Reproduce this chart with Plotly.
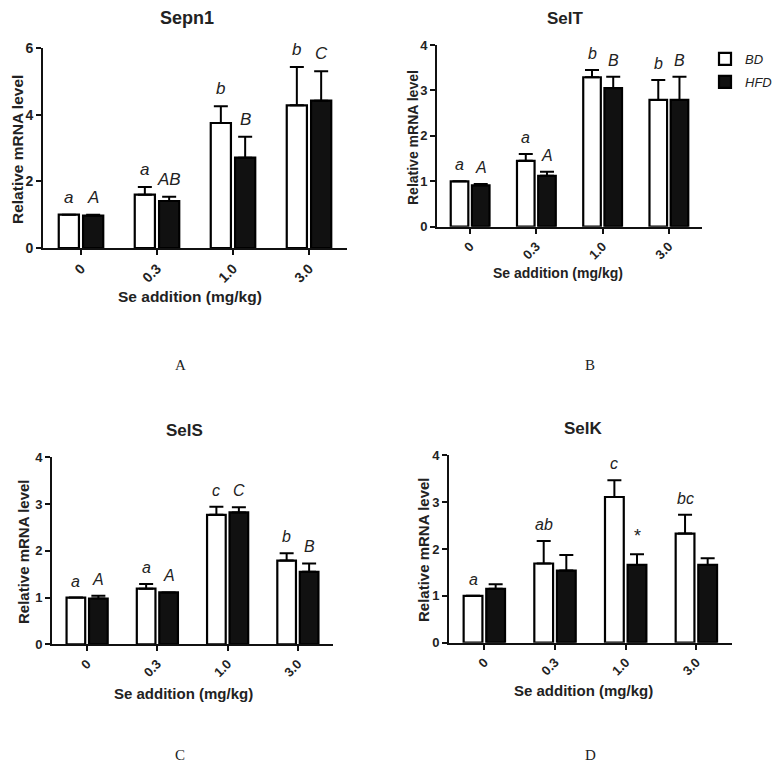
import plotly.graph_objects as go

# ---------------- data ----------------
doses = ["0", "0.3", "1.0", "3.0"]
x_pos = [0, 1, 2, 3]

sepn1_bd = [1.0, 1.6, 3.75, 4.28]
sepn1_bd_err = [0.0, 0.23, 0.5, 1.15]
sepn1_hfd = [0.97, 1.41, 2.71, 4.42]
sepn1_hfd_err = [0.03, 0.13, 0.63, 0.88]
sepn1_bd_letters = ["a", "a", "b", "b"]
sepn1_hfd_letters = ["A", "AB", "B", "C"]

selt_bd = [1.0, 1.45, 3.29, 2.79]
selt_bd_err = [0.0, 0.15, 0.16, 0.44]
selt_hfd = [0.91, 1.12, 3.05, 2.79]
selt_hfd_err = [0.03, 0.09, 0.25, 0.51]
selt_bd_letters = ["a", "a", "b", "b"]
selt_hfd_letters = ["A", "A", "B", "B"]

sels_bd = [1.0, 1.19, 2.77, 1.79]
sels_bd_err = [0.0, 0.10, 0.17, 0.16]
sels_hfd = [0.98, 1.11, 2.82, 1.55]
sels_hfd_err = [0.06, 0.0, 0.11, 0.18]
sels_bd_letters = ["a", "a", "c", "b"]
sels_hfd_letters = ["A", "A", "C", "B"]

selk_bd = [1.0, 1.69, 3.11, 2.33]
selk_bd_err = [0.0, 0.48, 0.36, 0.40]
selk_hfd = [1.15, 1.54, 1.66, 1.66]
selk_hfd_err = [0.10, 0.33, 0.23, 0.14]
selk_bd_letters = ["a", "ab", "c", "bc"]
selk_hfd_letters = ["", "", "*", ""]

y_ticks_sepn1 = [0, 2, 4, 6]
y_ticks_sel = [0, 1, 2, 3, 4]

x_title = "Se addition (mg/kg)"
y_title = "Relative mRNA level"

# ---------------- layout geometry (screen pixels) ----------------
W, H = 781, 769
OFF = 8  # page body margin
BARGAP = 0.36
BARGROUPGAP = 0.17
FONT = "Liberation Sans, Arial, sans-serif"


def px_x(v):
    return (v - OFF) / W


def px_y(v):
    return 1 - (v - OFF) / H


panels = [
    dict(name="Sepn1", bd=sepn1_bd, bde=sepn1_bd_err, hfd=sepn1_hfd, hfde=sepn1_hfd_err,
         bdl=sepn1_bd_letters, hfdl=sepn1_hfd_letters, ticks=y_ticks_sepn1,
         box=(43, 347, 48, 248), title_xy=(187, 18), label="A", label_xy=(180, 365),
         xt_xy=(190, 297), yt_xy=(18, 150),
         fs=15.5, tfs=18, lfs=17, tkfs=14),
    dict(name="SelT", bd=selt_bd, bde=selt_bd_err, hfd=selt_hfd, hfde=selt_hfd_err,
         bdl=selt_bd_letters, hfdl=selt_hfd_letters, ticks=y_ticks_sel,
         box=(437, 702, 45, 226.7), title_xy=(565, 18), label="B", label_xy=(590, 365),
         xt_xy=(558, 273), yt_xy=(413, 138),
         fs=14, tfs=17, lfs=16, tkfs=13),
    dict(name="SelS", bd=sels_bd, bde=sels_bd_err, hfd=sels_hfd, hfde=sels_hfd_err,
         bdl=sels_bd_letters, hfdl=sels_hfd_letters, ticks=y_ticks_sel,
         box=(52, 333, 457.3, 644.3), title_xy=(184, 430), label="C", label_xy=(180, 755),
         xt_xy=(183, 693), yt_xy=(23, 552),
         fs=15, tfs=17, lfs=16, tkfs=13),
    dict(name="SelK", bd=selk_bd, bde=selk_bd_err, hfd=selk_hfd, hfde=selk_hfd_err,
         bdl=selk_bd_letters, hfdl=selk_hfd_letters, ticks=y_ticks_sel,
         box=(449, 731.7, 455.3, 642.7), title_xy=(583, 428), label="D", label_xy=(590, 755),
         xt_xy=(583, 690), yt_xy=(423, 550),
         fs=15, tfs=17, lfs=16, tkfs=13),
]

fig = go.Figure()
annotations = []
slot = (1 - BARGAP) / 2
offset = slot / 2


def paper_text(xy, text, font, **kw):
    d = dict(x=px_x(xy[0]), y=px_y(xy[1]), xref="paper", yref="paper",
             xanchor="center", yanchor="middle", text=text, showarrow=False, font=font)
    d.update(kw)
    return d


for i, p in enumerate(panels):
    n = "" if i == 0 else str(i + 1)
    xa, ya = "x" + n, "y" + n
    fig.add_trace(go.Bar(
        x=x_pos, y=p["bd"], name="<i>BD</i>", xaxis=xa, yaxis=ya,
        marker=dict(color="white", line=dict(color="black", width=2.2)),
        error_y=dict(type="data", array=p["bde"], arrayminus=[0] * 4, symmetric=False,
                     color="black", thickness=2, width=7),
        showlegend=(i == 0), legendgroup="bd",
    ))
    fig.add_trace(go.Bar(
        x=x_pos, y=p["hfd"], name="<i>HFD</i>", xaxis=xa, yaxis=ya,
        marker=dict(color="#111111", line=dict(color="black", width=2.2)),
        error_y=dict(type="data", array=p["hfde"], arrayminus=[0] * 4, symmetric=False,
                     color="black", thickness=2, width=7),
        showlegend=(i == 0), legendgroup="hfd",
    ))
    x0, x1, yt, yb = p["box"]
    fig.update_layout(**{
        ("xaxis" + n): dict(
            domain=[px_x(x0), px_x(x1)], anchor=ya, range=[-0.5, 3.5],
            tickvals=x_pos, ticktext=doses, tickangle=-45, automargin=False,
            showline=True, linecolor="#111", linewidth=2,
            ticks="outside", ticklen=5, tickwidth=2, tickcolor="#111",
            showgrid=False, zeroline=False,
            tickfont=dict(family=FONT, size=p["tkfs"], color="#222", weight="bold"),
        ),
        ("yaxis" + n): dict(
            domain=[px_y(yb), px_y(yt)], anchor=xa, range=[0, max(p["ticks"])],
            tickvals=p["ticks"], automargin=False,
            showline=True, linecolor="#111", linewidth=2,
            ticks="outside", ticklen=5, tickwidth=2, tickcolor="#111",
            showgrid=False, zeroline=False,
            tickfont=dict(family=FONT, size=p["tkfs"], color="#222", weight="bold"),
        ),
    })
    # significance letters
    for j in range(4):
        for vals, errs, letters, sgn in ((p["bd"], p["bde"], p["bdl"], -1),
                                         (p["hfd"], p["hfde"], p["hfdl"], 1)):
            if letters[j]:
                txt = letters[j] if letters[j] == "*" else "<i>" + letters[j] + "</i>"
                annotations.append(dict(
                    x=x_pos[j] + sgn * offset, y=vals[j] + errs[j], xref=xa, yref=ya,
                    xanchor="center", text=txt, showarrow=False, yanchor="bottom", yshift=6,
                    font=dict(family=FONT, size=p["lfs"] + (2 if letters[j] == "*" else 0),
                              color="#222"),
                ))
    fnt = dict(family=FONT, size=p["fs"], color="#222")
    annotations.append(paper_text(p["xt_xy"], "<b>" + x_title + "</b>", fnt))
    annotations.append(paper_text(p["yt_xy"], "<b>" + y_title + "</b>", fnt, textangle=-90))
    annotations.append(paper_text(p["title_xy"], "<b>" + p["name"] + "</b>",
                                  dict(family=FONT, size=p["tfs"], color="#222")))
    annotations.append(paper_text(p["label_xy"], p["label"],
                                  dict(family="Liberation Serif, serif", size=15, color="#222")))

fig.update_layout(
    width=W, height=H,
    margin=dict(l=0, r=0, t=0, b=0, autoexpand=False),
    paper_bgcolor="white", plot_bgcolor="white",
    barmode="group", bargap=BARGAP, bargroupgap=BARGROUPGAP,
    annotations=annotations,
    showlegend=True,
    legend=dict(x=px_x(705), y=px_y(44), xanchor="left", yanchor="top",
                font=dict(family=FONT, size=13, color="#222"),
                bgcolor="rgba(0,0,0,0)", tracegroupgap=3, itemwidth=30),
)

fig.write_html("out.html")
